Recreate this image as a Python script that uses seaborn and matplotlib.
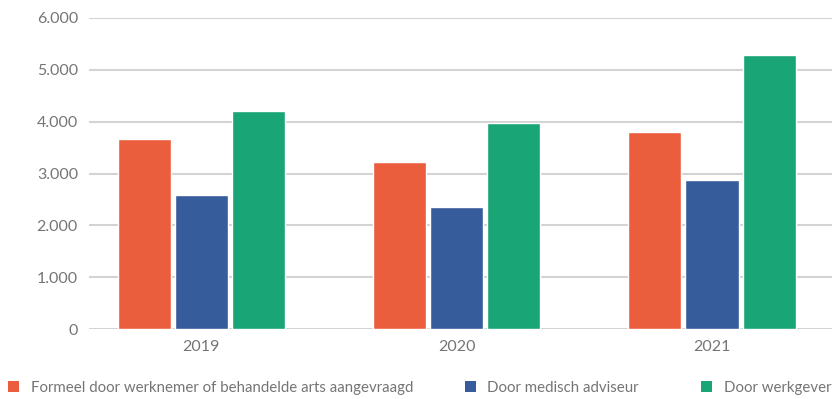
import matplotlib
matplotlib.use("Agg")
import matplotlib.pyplot as plt
import seaborn as sns
import pandas as pd
from matplotlib.ticker import FuncFormatter, MultipleLocator
from matplotlib.patches import Patch

years = ["2019", "2020", "2021"]
series = ["Formeel door werknemer of behandelde arts aangevraagd",
          "Door medisch adviseur",
          "Door werkgever"]
formeel = [3660, 3230, 3810]
medisch = [2580, 2350, 2870]
werkgever = [4200, 3970, 5280]
colors = ["#EB5E3D", "#365C9B", "#19A576"]

rows = []
for name, vals in zip(series, [formeel, medisch, werkgever]):
    for y, v in zip(years, vals):
        rows.append({"jaar": y, "reeks": name, "aantal": v})
df = pd.DataFrame(rows)

sns.set_theme(style="white")
plt.rcParams["font.family"] = ["Lato", "DejaVu Sans"]

fig = plt.figure(figsize=(8.32, 3.99), dpi=100)
ax = fig.add_axes([0.107, 0.1754, 0.893, 0.7795])

sns.barplot(data=df, x="jaar", y="aantal", hue="reeks", hue_order=series,
            order=years, palette=colors, width=0.67, gap=0.07,
            saturation=1, ax=ax, legend=False, errorbar=None)

ax.set_ylim(0, 6000)
ax.set_xlim(-0.44, 2.47)
ax.yaxis.set_major_locator(MultipleLocator(1000))
ax.yaxis.set_major_formatter(FuncFormatter(lambda v, p: f"{int(v):,}".replace(",", ".")))
ax.grid(axis="y", color="#d3d3d3", linewidth=1.5)
ax.set_axisbelow(True)
for s in ax.spines.values():
    s.set_visible(False)
ax.set_xlabel("")
ax.set_ylabel("")
ax.tick_params(axis="y", length=0, pad=8, labelsize=11.5, labelcolor="#757575")
ax.tick_params(axis="x", length=0, pad=8, labelsize=11.5, labelcolor="#757575")

anchors = [(8 / 832, "center left"), (465 / 832, "center left"), (831 / 832, "center right")]
for c, name, (x, loc) in zip(colors, series, anchors):
    h = Patch(facecolor=c, edgecolor="none")
    fig.legend([h], [name], loc=loc, bbox_to_anchor=(x, 11 / 399),
               frameon=False, fontsize=10.8, handlelength=0.75, handleheight=0.75,
               handletextpad=0.75, borderaxespad=0, borderpad=0,
               labelcolor="#757575")

fig.savefig("out.png", dpi=100)
